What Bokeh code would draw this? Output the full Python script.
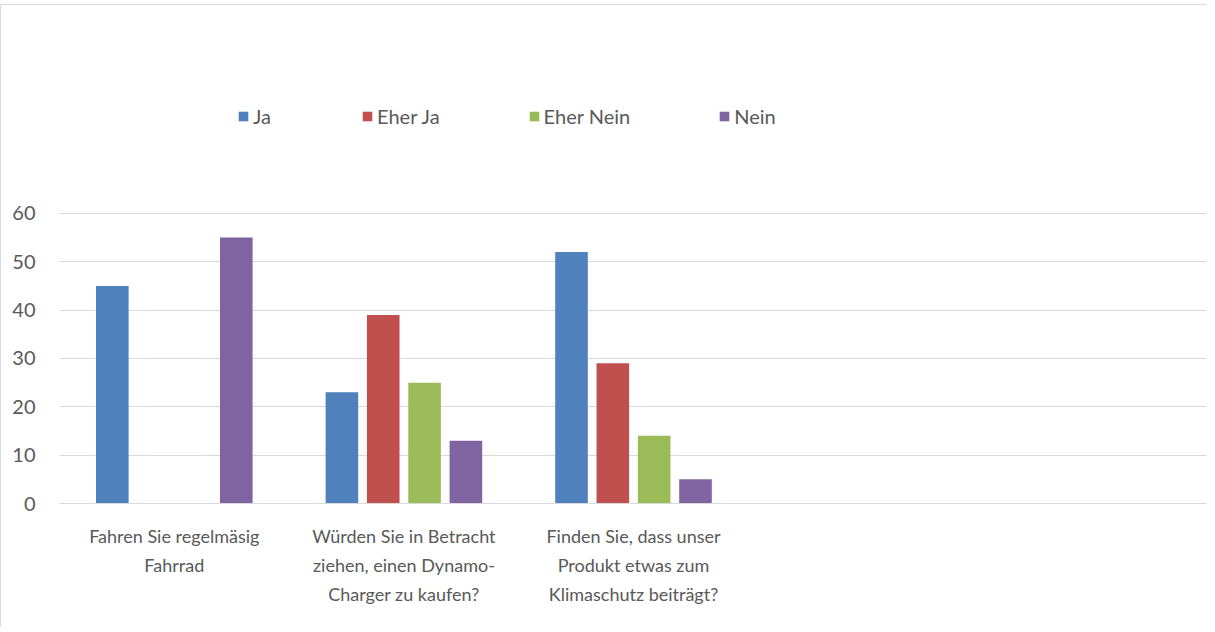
from bokeh.plotting import figure
from bokeh.models import FactorRange, Range1d, FixedTicker, Legend, LegendItem, ColumnDataSource
from bokeh.transform import dodge
from bokeh.embed import file_html
from bokeh.resources import INLINE

# ---- data ----
categories = [
    "Fahren Sie regelmäsig\nFahrrad",
    "Würden Sie in Betracht\nziehen, einen Dynamo-\nCharger zu kaufen?",
    "Finden Sie, dass unser\nProdukt etwas zum\nKlimaschutz beiträgt?",
    " ",
    "  ",
]
series_names = ["Ja", "Eher Ja", "Eher Nein", "Nein"]
ja = [45, 23, 52, 0, 0]
eher_ja = [0, 39, 29, 0, 0]
eher_nein = [0, 25, 14, 0, 0]
nein = [55, 13, 5, 0, 0]
y_ticks = [0, 10, 20, 30, 40, 50, 60]

colors = ["#4F81BD", "#C0504D", "#9BBB59", "#8064A2"]
FONT = "Lato"
TXT = "#595959"
GRID = "#d9d9d9"

src = ColumnDataSource(dict(cat=categories, ja=ja, eher_ja=eher_ja, eher_nein=eher_nein, nein=nein))

p = figure(
    x_range=FactorRange(*categories),
    y_range=Range1d(0, 103.0),
    width=1206, height=623,
    output_backend="svg", toolbar_location=None,
    min_border_left=58, min_border_right=0, min_border_top=0, min_border_bottom=125,
)
p.styles = {"border-top": "1px solid #d9d9d9", "border-left": "1px solid #d9d9d9", "margin-top": "4px"}
p.outline_line_color = None
p.background_fill_color = "white"
p.border_fill_color = "white"

offsets = [-0.27, -0.09, 0.09, 0.27]
cols = ["ja", "eher_ja", "eher_nein", "nein"]
renderers = []
for c, off, col in zip(cols, offsets, colors):
    r = p.vbar(x=dodge("cat", off, range=p.x_range), top=c, width=0.142, bottom=0,
               source=src, fill_color=col, line_color=None)
    renderers.append(r)

# axes
p.yaxis.ticker = FixedTicker(ticks=y_ticks)
p.yaxis.axis_line_color = None
p.yaxis.major_tick_line_color = None
p.yaxis.minor_tick_line_color = None
p.yaxis.major_label_text_font = FONT
p.yaxis.major_label_text_font_size = "20px"
p.yaxis.major_label_text_color = TXT
p.yaxis.major_label_standoff = 18

p.xaxis.axis_line_color = GRID
p.xaxis.major_tick_line_color = None
p.xaxis.minor_tick_line_color = None
p.xaxis.major_label_text_font = FONT
p.xaxis.major_label_text_font_size = "18px"
p.xaxis.major_label_text_color = TXT
p.xaxis.major_label_text_line_height = 1.34
p.xaxis.major_label_standoff = 15

p.xgrid.grid_line_color = None
p.ygrid.ticker = FixedTicker(ticks=y_ticks)
p.ygrid.grid_line_color = GRID
p.ygrid.grid_line_width = 1

legend = Legend(
    items=[LegendItem(label=n, renderers=[r]) for n, r in zip(series_names, renderers)],
    orientation="horizontal",
    location=(178, 375),
    label_text_font=FONT,
    label_text_font_size="20px",
    label_text_color=TXT,
    glyph_width=12, glyph_height=12,
    label_standoff=4, spacing=88,
    border_line_color=None, background_fill_alpha=0,
    padding=0, margin=0,
)
p.add_layout(legend, "center")

open("out.html", "w").write(file_html(p, INLINE))
